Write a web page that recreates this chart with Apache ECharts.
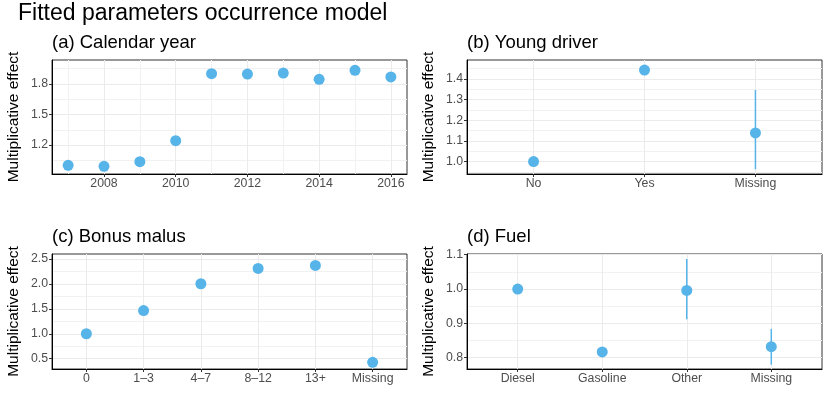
<!DOCTYPE html>
<html>
<head>
<meta charset="utf-8">
<script src="https://cdn.jsdelivr.net/npm/echarts@6/dist/echarts.min.js"></script>
<style>
html,body{margin:0;padding:0;background:#fff;}
#main{width:830px;height:415px;}
</style>
</head>
<body>
<div id="main"></div>
<script>
// ---- data ----
const yearCats = [2007, 2008, 2009, 2010, 2011, 2012, 2013, 2014, 2015, 2016];
const yearEffect = [1.00, 0.99, 1.036, 1.243, 1.901, 1.898, 1.908, 1.846, 1.935, 1.869];
const yearTicks = [2008, 2010, 2012, 2014, 2016];
const yearMinor = [2007, 2009, 2011, 2013, 2015];

const youngCats = ['No', 'Yes', 'Missing'];
const youngEffect = [1.0, 1.4435, 1.139];
const youngLow = [null, null, 0.963];
const youngHigh = [null, null, 1.347];

const bonusCats = ['0', '1\u20133', '4\u20137', '8\u201312', '13+', 'Missing'];
const bonusEffect = [1.0, 1.466, 2.003, 2.311, 2.371, 0.428];

const fuelCats = ['Diesel', 'Gasoline', 'Other', 'Missing'];
const fuelEffect = [1.0, 0.8166, 0.9958, 0.832];
const fuelLow = [null, null, 0.912, 0.7795];
const fuelHigh = [null, null, 1.0875, 0.884];

const yTicksA = [1.2, 1.5, 1.8];
const yMinorA = [1.05, 1.35, 1.65, 1.95];
const yTicksB = [1.0, 1.1, 1.2, 1.3, 1.4];
const yMinorB = [0.95, 1.05, 1.15, 1.25, 1.35, 1.45];
const yTicksC = [0.5, 1.0, 1.5, 2.0, 2.5];
const yMinorC = [0.75, 1.25, 1.75, 2.25];
const yTicksD = [0.8, 0.9, 1.0, 1.1];
const yMinorD = [0.85, 0.95, 1.05];

const panelTitles = ['(a) Calendar year', '(b) Young driver', '(c) Bonus malus', '(d) Fuel'];
const mainTitle = 'Fitted parameters occurrence model';
const yName = 'Multiplicative effect';

// ---- styling ----
const FONT = 'Liberation Sans, Arial, Helvetica, sans-serif';
const PT = '#56B4E9';
const grids = [
  {left: 52, top: 60, width: 355, height: 114},
  {left: 467, top: 60, width: 355, height: 114},
  {left: 52, top: 254, width: 355, height: 115},
  {left: 467, top: 254, width: 355, height: 115}
].map(g => Object.assign({show: true, borderColor: '#333', borderWidth: 1, backgroundColor: '#fff'}, g));

function idx(arr) { return arr.map((_, i) => i + 1); }

function majorAxis(gi, min, max, ticks, fmt, isY) {
  const a = {
    type: 'value', gridIndex: gi, min: min, max: max,
    position: isY ? 'left' : 'bottom',
    axisLine: {show: true, onZero: false, lineStyle: {color: '#000', width: 1}},
    axisTick: {show: true, length: 3, customValues: ticks, lineStyle: {color: '#333', width: 1}},
    axisLabel: {show: true, customValues: ticks, formatter: fmt, color: '#4d4d4d',
      fontFamily: FONT, fontSize: 12.3, margin: 4},
    splitLine: {show: true, lineStyle: {color: '#ebebeb', width: 1}},
    minorSplitLine: {show: false}
  };
  if (isY) {
    a.name = yName; a.nameLocation = 'middle'; a.nameGap = 30;
    a.nameTextStyle = {fontFamily: FONT, fontSize: 15.5, color: '#000'};
  }
  return a;
}
function minorAxis(gi, min, max, ticks, isY) {
  return {
    type: 'value', gridIndex: gi, min: min, max: max,
    position: isY ? 'left' : 'bottom',
    axisLine: {show: false}, axisTick: {show: false, customValues: ticks},
    axisLabel: {show: false, customValues: ticks},
    splitLine: {show: true, lineStyle: {color: '#f1f1f1', width: 1}}
  };
}
const f1 = v => v.toFixed(1);
const catFmt = cats => (v => cats[Math.round(v) - 1] || '');

const xAxes = [], yAxes = [];
// panel a
xAxes.push(minorAxis(0, 2006.55, 2016.45, yearMinor, false));
xAxes.push(majorAxis(0, 2006.55, 2016.45, yearTicks, v => String(v), false));
yAxes.push(minorAxis(0, 0.915, 2.036, yMinorA, true));
yAxes.push(majorAxis(0, 0.915, 2.036, yTicksA, f1, true));
// panel b
xAxes.push(majorAxis(1, 0.4, youngCats.length + 0.6, idx(youngCats), catFmt(youngCats), false));
yAxes.push(minorAxis(1, 0.94, 1.492, yMinorB, true));
yAxes.push(majorAxis(1, 0.94, 1.492, yTicksB, f1, true));
// panel c
xAxes.push(majorAxis(2, 0.4, bonusCats.length + 0.6, idx(bonusCats), catFmt(bonusCats), false));
yAxes.push(minorAxis(2, 0.293, 2.60, yMinorC, true));
yAxes.push(majorAxis(2, 0.293, 2.60, yTicksC, f1, true));
// panel d
xAxes.push(majorAxis(3, 0.4, fuelCats.length + 0.6, idx(fuelCats), catFmt(fuelCats), false));
yAxes.push(minorAxis(3, 0.767, 1.102, yMinorD, true));
yAxes.push(majorAxis(3, 0.767, 1.102, yTicksD, f1, true));

const XI = [1, 2, 3, 4];
const YI = [1, 3, 5, 7];

function scatter(p, xs, ys) {
  return {type: 'scatter', xAxisIndex: XI[p], yAxisIndex: YI[p], symbolSize: 11, z: 5,
    itemStyle: {color: PT, opacity: 1}, data: xs.map((x, i) => [x, ys[i]])};
}
function errbars(p, xs, lo, hi) {
  const d = [];
  xs.forEach((x, i) => { if (lo[i] != null) d.push([x, lo[i], hi[i]]); });
  return {type: 'custom', xAxisIndex: XI[p], yAxisIndex: YI[p], z: 4, data: d,
    renderItem: function (params, api) {
      const a = api.coord([api.value(0), api.value(1)]);
      const b = api.coord([api.value(0), api.value(2)]);
      return {type: 'line', shape: {x1: a[0], y1: a[1], x2: b[0], y2: b[1]},
        style: {stroke: PT, lineWidth: 1.5}};
    }};
}

const tStyle = {fontFamily: FONT, fontSize: 18.5, fontWeight: 'normal', color: '#000'};
const titles = [
  {text: mainTitle, left: 18, top: 2, padding: 0, textStyle: {fontFamily: FONT, fontSize: 23, fontWeight: 'normal', color: '#000'}},
  {text: panelTitles[0], left: 52, top: 33, padding: 0, textStyle: tStyle},
  {text: panelTitles[1], left: 467, top: 33, padding: 0, textStyle: tStyle},
  {text: panelTitles[2], left: 52, top: 227, padding: 0, textStyle: tStyle},
  {text: panelTitles[3], left: 467, top: 227, padding: 0, textStyle: tStyle}
];

const chart = echarts.init(document.getElementById('main'), null, {renderer: 'canvas'});
chart.setOption({
  animation: false,
  backgroundColor: '#fff',
  title: titles,
  grid: grids,
  xAxis: xAxes,
  yAxis: yAxes,
  series: [
    errbars(1, idx(youngCats), youngLow, youngHigh),
    errbars(3, idx(fuelCats), fuelLow, fuelHigh),
    scatter(0, yearCats, yearEffect),
    scatter(1, idx(youngCats), youngEffect),
    scatter(2, idx(bonusCats), bonusEffect),
    scatter(3, idx(fuelCats), fuelEffect)
  ]
});
</script>
</body>
</html>
